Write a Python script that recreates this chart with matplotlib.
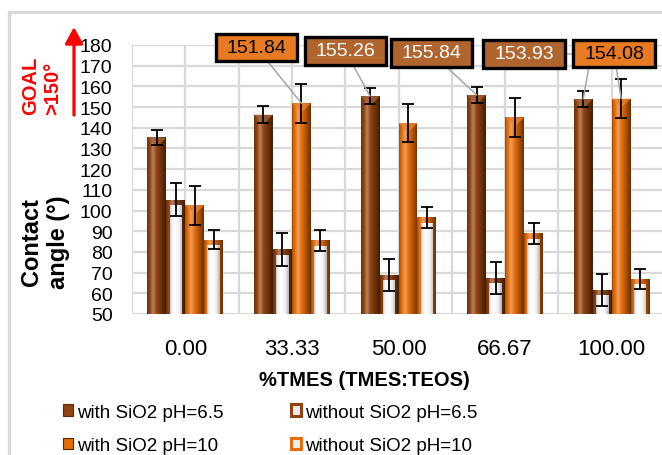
import numpy as np
import matplotlib
matplotlib.use("Agg")
import matplotlib.pyplot as plt
from matplotlib.patches import Rectangle, Polygon, Patch
from matplotlib.path import Path
from matplotlib.colors import to_rgb

plt.rcParams['font.family'] = ['Liberation Sans', 'DejaVu Sans']

# ---------------- data ----------------
categories = ['0.00', '33.33', '50.00', '66.67', '100.00']
series_names = ['with SiO2 pH=6.5', 'without SiO2 pH=6.5',
                'with SiO2 pH=10', 'without SiO2 pH=10']
with_ph65 = [135.3, 146.3, 155.26, 155.84, 153.93]
with_ph65_err = [3.7, 4.0, 4.0, 4.0, 4.0]
without_ph65 = [105.3, 81.2, 68.8, 67.4, 61.7]
without_ph65_err = [8.0, 7.8, 7.7, 7.6, 7.7]
with_ph10 = [102.6, 151.84, 142.3, 145.0, 154.08]
with_ph10_err = [9.4, 9.4, 9.2, 9.3, 9.3]
without_ph10 = [86.0, 85.6, 96.8, 89.0, 67.0]
without_ph10_err = [4.8, 5.0, 5.0, 5.0, 4.7]
# (series index, category index) of the bars carrying a value box
labelled_bars = [(2, 1), (0, 2), (0, 3), (0, 4), (2, 4)]
y_ticks = list(range(50, 181, 10))

values = [with_ph65, without_ph65, with_ph10, without_ph10]
errors = [with_ph65_err, without_ph65_err, with_ph10_err, without_ph10_err]

# ---------------- style ----------------
BROWN = '#90420F'
ORANGE = '#E46C0A'
frame_col = [BROWN, BROWN, ORANGE, ORANGE]
hollow = [False, True, False, True]
GRID = '#D9D9D9'

W, H = 662, 456
fig = plt.figure(figsize=(W / 100, H / 100), dpi=100)
fig.patch.set_facecolor('white')

# chart area border
fig.patches.append(Rectangle((9 / W, -0.2), 1.2, 0.2 + 1 - 12.5 / H,
                             transform=fig.transFigure, fill=False,
                             edgecolor=GRID, lw=2.4, zorder=0))

ax = fig.add_axes([132 / W, 1 - 315 / H, (665 - 132) / W, (315 - 46) / H])
ax.set_facecolor('white')
ax.set_xlim(-0.5, 4.5)
ax.set_ylim(50, 180)

x = np.arange(len(categories))
bw = 0.178
offsets = (np.arange(4) - 1.5) * bw

prof_t = np.array([0.0, 0.12, 0.32, 0.55, 0.8, 1.0])
prof_v = np.array([0.72, 0.98, 1.12, 0.98, 0.7, 0.45])
t = np.linspace(0, 1, 64)
prof = np.interp(t, prof_t, prof_v)


def shaded(color):
    c = np.array(to_rgb(color))
    img = np.clip(c[None, :] * prof[:, None], 0, 1)
    lighter = np.clip(c + (1 - c) * 0.35, 0, 1)
    img = np.where(prof[:, None] > 1, c + (lighter - c) * (prof[:, None] - 1) / 0.12, img)
    return np.clip(img, 0, 1)[None, :, :]


wprof = np.interp(t, [0, 0.1, 0.35, 0.7, 0.9, 1.0], [0.72, 0.93, 1.0, 0.95, 0.8, 0.68])
white_img = np.repeat(wprof[:, None], 3, axis=1)[None, :, :]


def grad(rect, img, z):
    x0, y0 = rect.get_x(), rect.get_y()
    w, h = rect.get_width(), rect.get_height()
    ylo = max(y0, ax.get_ylim()[0])
    im = ax.imshow(img, extent=[x0, x0 + w, ylo, y0 + h], aspect='auto',
                   interpolation='bilinear', origin='lower', zorder=z)
    im.set_clip_path(rect.get_path(), rect.get_transform())


bar_containers = []
for i in range(4):
    bars = ax.bar(x + offsets[i], values[i], bw, color=frame_col[i],
                  edgecolor='none', zorder=2, label=series_names[i])
    bar_containers.append(bars)
    for r in bars:
        grad(r, shaded(frame_col[i]), 2.1)
        x0, w, h = r.get_x(), r.get_width(), r.get_height()
        if hollow[i]:
            dx = 0.03
            dy = 2.6
            inner = Rectangle((x0 + dx, 0), w - 2 * dx, h - dy, facecolor='white',
                              edgecolor='none', zorder=2.2)
            ax.add_patch(inner)
            grad(inner, white_img, 2.3)
        else:
            c = np.array(to_rgb(frame_col[i]))
            light = np.clip(c + (1 - c) * 0.15, 0, 1)
            tri = Polygon([(x0, h), (x0 + w, h), (x0 + w / 2, h - 4.5)],
                          closed=True, facecolor=light, edgecolor='none',
                          alpha=0.8, zorder=2.4)
            ax.add_patch(tri)
    ax.errorbar(x + offsets[i], values[i], yerr=errors[i], fmt='none',
                ecolor='black', elinewidth=1.3, capsize=4.5, capthick=1.3,
                zorder=5)

ax.set_xlim(-0.5, 4.5)
ax.set_ylim(50, 180)
ax.set_yticks(y_ticks)
ax.set_xticks(x)
ax.set_xticklabels(categories, fontsize=16)
ax.set_xticks(np.arange(-0.5, 5.0, 0.5), minor=True)
ax.tick_params(axis='y', length=0, pad=14, labelsize=14)
ax.tick_params(axis='x', which='both', length=0, pad=17.5)
ax.set_axisbelow(True)
ax.grid(axis='y', color=GRID, lw=1.6, zorder=0)
ax.grid(axis='x', which='both', color=GRID, lw=1.6, zorder=0)
for s in ax.spines.values():
    s.set_visible(False)

ax.set_xlabel('%TMES (TMES:TEOS)', fontsize=14.5, fontweight='bold')
ax.xaxis.set_label_coords((364 - 132) / 533, (315 - 381) / 269)
ax.xaxis.label.set_va('center')
ax.set_ylabel('Contact\nangle (°)', fontsize=17, fontweight='bold',
              multialignment='center')
ax.yaxis.set_label_coords((45 - 132) / 533, (315 - 242.5) / 269)
ax.yaxis.label.set_va('center')

# GOAL annotation
fig.text(42 / W, 1 - 115 / H, 'GOAL\n>150°', rotation=90, ha='center',
         va='bottom', multialignment='left', color='#FF0000', fontsize=14.5,
         fontweight='bold', linespacing=1.2)
ax.annotate('', xy=(74, H - 28), xytext=(74, H - 116), xycoords='figure pixels',
            textcoords='figure pixels', annotation_clip=False,
            arrowprops=dict(arrowstyle='-|>,head_length=0.55,head_width=0.3',
                            mutation_scale=18, lw=2.3, color='#FF0000',
                            shrinkA=0, shrinkB=0))


# value boxes
def wide_box(x0, y0, width, height, mutation_size):
    px = 0.55 * mutation_size
    py = 0.28 * mutation_size
    return Path([(x0 - px, y0 - py), (x0 + width + px, y0 - py),
                 (x0 + width + px, y0 + height + py), (x0 - px, y0 + height + py),
                 (x0 - px, y0 - py)], closed=True)


box_centers = [(256.5, 48.5), (345.5, 52), (431.5, 54), (524, 55), (614, 54.5)]
for (si, ci), (bx, by) in zip(labelled_bars, box_centers):
    v = values[si][ci]
    is_orange = si == 2
    face = '#E87B22' if is_orange else '#B0652F'
    tcol = 'black' if is_orange else 'white'
    arrow = dict(arrowstyle='-', color='#A6A6A6', lw=1.1, shrinkA=0, shrinkB=0)
    if (si, ci) == (0, 4):
        arrow.update(relpos=(1, 0.5),
                     connectionstyle='angle,angleA=0,angleB=80,rad=0')
    ax.annotate(f'{v:.2f}', xy=(x[ci] + offsets[si], v), xycoords='data',
                xytext=(bx, H - by), textcoords='figure pixels',
                ha='center', va='center', fontsize=14, color=tcol,
                annotation_clip=False, zorder=10,
                bbox=dict(boxstyle=wide_box, facecolor=face, edgecolor='black',
                          lw=2.4),
                arrowprops=arrow)

# legend
handles = []
for i in range(4):
    if hollow[i]:
        handles.append(Patch(facecolor='#EDEDED', edgecolor=frame_col[i], lw=2.2,
                             label=series_names[i]))
    else:
        handles.append(Patch(facecolor=frame_col[i], edgecolor='#5A2A08', lw=0.8,
                             label=series_names[i]))
order = [0, 2, 1, 3]
fig.legend([handles[k] for k in order], [series_names[k] for k in order],
           ncol=2, loc='center left', bbox_to_anchor=(63 / W, 1 - 430 / H),
           frameon=False, fontsize=13.5, handlelength=0.55, handleheight=0.55,
           handletextpad=0.2, columnspacing=3.6, labelspacing=0.9,
           borderpad=0, borderaxespad=0)

fig.savefig('out.png', dpi=100, facecolor='white')
